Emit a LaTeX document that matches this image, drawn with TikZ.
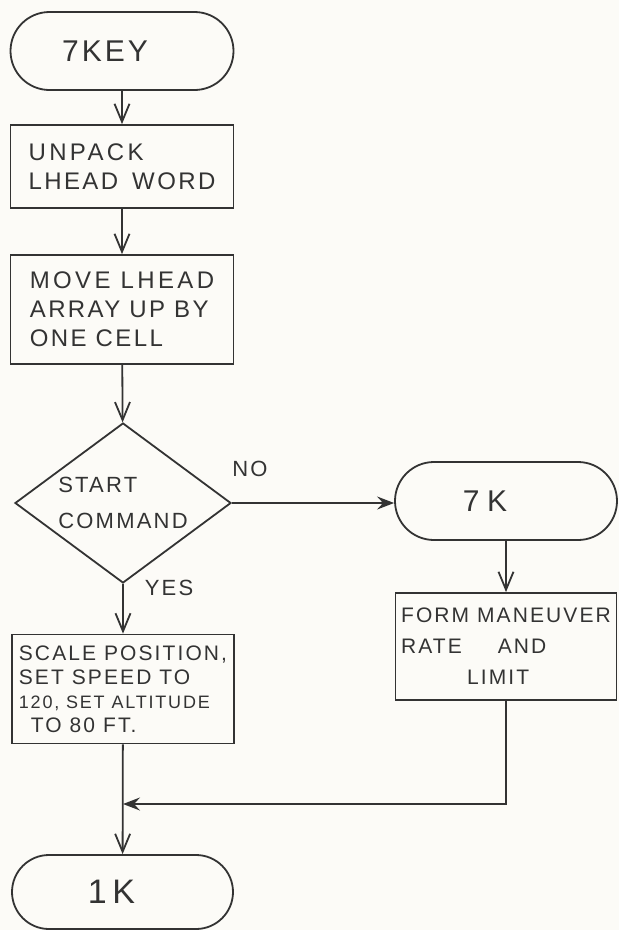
\documentclass[tikz,border=0pt]{standalone}
\usepackage{fontspec}
\setmainfont{Liberation Sans}[LetterSpace=10]
\usetikzlibrary{arrows.meta,shapes.geometric}

\definecolor{ink}{HTML}{333333}
\definecolor{paper}{HTML}{FCFBF7}

\tikzset{
  terminal/.style={draw=ink, line width=1.8pt, rectangle, rounded corners=#1,
    inner sep=0pt, font=\fontsize{30}{30}\selectfont},
  terminal/.default=39pt,
  procbox/.style={draw=ink, line width=1.8pt, rectangle, align=left,
    inner sep=0pt, font=\fontsize{24}{29}\selectfont},
  decision/.style={draw=ink, line width=1.8pt, diamond, shape aspect=1.35,
    align=left, inner sep=0pt, font=\fontsize{22}{36}\selectfont},
  flowlabel/.style={font=\fontsize{22}{22}\selectfont},
  flow/.style={draw=ink, line width=1.8pt,
    -{Straight Barb[length=18pt,width=15pt,line width=1.8pt]}},
  joinflow/.style={draw=ink, line width=1.8pt,
    -{Stealth[length=17pt,width=13pt,inset=6pt]}},
}

\begin{document}
\begin{tikzpicture}[x=1pt,y=-1pt, every node/.style={text=ink}]
  % page
  \fill[paper] (0,0) rectangle (619,930);
  \useasboundingbox (0,0) rectangle (619,930);

  % main column
  \node[terminal, minimum width=223pt, minimum height=78pt] (start) at (122,51)
    {7KEY\hspace*{34pt}};
  \node[procbox, minimum width=223pt, minimum height=83pt] (unpack) at (122,166.5)
    {\addfontfeature{LetterSpace=14}UNPACK\\LHEAD\hspace{14pt}WORD};
  \node[procbox, minimum width=223pt, minimum height=109pt] (move) at (122,309.5)
    {\addfontfeature{LetterSpace=14}MOVE LHEAD\\ARRAY UP BY\\ONE CELL};
  \node[decision, minimum width=216pt, minimum height=160pt] (startcmd) at (123,503)
    {START\\COMMAND};
  \node[procbox, minimum width=222pt, minimum height=109pt,
        font=\fontsize{21}{24}\selectfont] (scale) at (123,689)
    {SCALE POSITION,\\SET SPEED TO\\{\fontsize{18}{24}\selectfont 120, SET ALTITUDE}\\\hspace*{12pt}TO 80 FT.};
  \node[terminal=37pt, minimum width=221pt, minimum height=74pt,
        font=\fontsize{34}{34}\selectfont] (onek) at (122.5,892)
    {\addfontfeature{LetterSpace=16}1K\hspace*{22pt}};

  % branch column
  \node[terminal, minimum width=222pt, minimum height=78pt] (sevenk) at (506,501)
    {\addfontfeature{LetterSpace=25}7K\hspace*{42pt}};
  \node[procbox, minimum width=221pt, minimum height=107pt,
        font=\fontsize{21}{31}\selectfont] (maneuver) at (506,646.5)
    {FORM MANEUVER\\RATE\hspace{36pt}AND\\\hspace*{66pt}LIMIT};

  % branch labels
  \node[flowlabel] (no) at (250,469) {NO};
  \node[flowlabel] (yes) at (169,588) {YES};

  % connectors
  \coordinate (merge) at (123,804);
  \draw[flow] (start) -- (unpack);
  \draw[flow] (unpack) -- (move);
  \draw[flow] (move) -- (startcmd);
  \draw[joinflow] (startcmd.east) -- (startcmd.east -| sevenk.west);
  \draw[flow] (startcmd) -- (scale);
  \draw[flow] (sevenk) -- (maneuver);
  \draw[joinflow] (maneuver.south) |- (merge);
  \draw[flow] (scale) -- (onek);
\end{tikzpicture}
\end{document}
